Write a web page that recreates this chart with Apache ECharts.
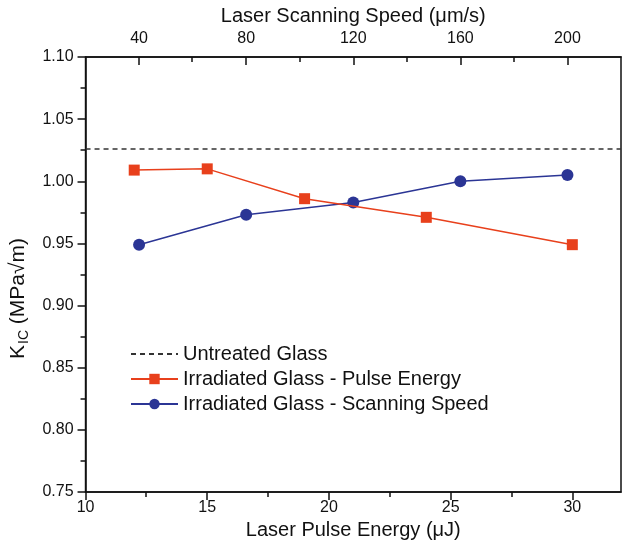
<!DOCTYPE html>
<html>
<head>
<meta charset="utf-8">
<script src="https://cdn.jsdelivr.net/npm/echarts@6/dist/echarts.min.js"></script>
<style>
  html, body { margin: 0; padding: 0; background: #fff; }
  #chart { width: 623px; height: 548px; }
</style>
</head>
<body>
<div id="chart"></div>
<script>
// Fracture toughness of glass vs. laser processing parameters
const untreatedValue = 1.026;

const pulseEnergy = [12, 15, 19, 24, 30];          // µJ (bottom axis)
const kicPulse = [1.009, 1.010, 0.986, 0.971, 0.949];

const scanSpeed = [40, 80, 120, 160, 200];         // µm/s (top axis)
const kicSpeed = [0.949, 0.973, 0.983, 1.000, 1.005];

const energyTicks = [10, 15, 20, 25, 30];
const energyMinorTicks = [12.5, 17.5, 22.5, 27.5];
const speedTicks = [40, 80, 120, 160, 200];
const speedMinorTicks = [60, 100, 140, 180];
const energyRange = [10, 32];
const speedRange = [20, 220];

const FONT = 'Liberation Sans, Arial, sans-serif';
const INK = '#111';
const RED = '#E8401C';
const BLUE = '#2B3595';
const DASH = '#333';

const gridBox = { left: 85, right: 2, top: 57, bottom: 56 };

const chart = echarts.init(document.getElementById('chart'), null, { renderer: 'canvas' });

const axisLine = { show: true, lineStyle: { color: INK, width: 1.5 } };
const labelStyle = { color: INK, fontSize: 16, fontFamily: FONT };
const titleStyle = { color: INK, fontSize: 20, fontFamily: FONT };

chart.setOption({
  backgroundColor: '#fff',
  animation: false,
  grid: [
    Object.assign({ show: true, borderColor: INK, borderWidth: 1.5, containLabel: false }, gridBox),
    Object.assign({ show: false, containLabel: false }, gridBox)
  ],
  legend: {
    orient: 'vertical',
    left: 125,
    top: 339,
    itemWidth: 47,
    itemHeight: 13,
    itemGap: 5,
    itemTextGap: 6,
    textStyle: { color: INK, fontSize: 20, fontFamily: FONT },
    data: ['Untreated Glass', 'Irradiated Glass - Pulse Energy', 'Irradiated Glass - Scanning Speed']
  },
  xAxis: [
    {
      type: 'value', gridIndex: 0, position: 'bottom',
      min: energyRange[0], max: energyRange[1],
      axisLine: axisLine,
      axisTick: { show: true, inside: false, length: 8, customValues: energyTicks, lineStyle: { color: INK, width: 1.5 } },
      axisLabel: Object.assign({ margin: 8, customValues: energyTicks }, labelStyle),
      splitLine: { show: false },
      name: 'Laser Pulse Energy (\u03bcJ)',
      nameLocation: 'middle', nameGap: 28,
      nameTextStyle: titleStyle
    },
    {
      type: 'value', gridIndex: 0, position: 'top',
      min: speedRange[0], max: speedRange[1],
      axisLine: axisLine,
      axisTick: { show: true, inside: true, length: 8, customValues: speedTicks, lineStyle: { color: INK, width: 1.5 } },
      axisLabel: Object.assign({ margin: 10, customValues: speedTicks }, labelStyle),
      splitLine: { show: false },
      name: 'Laser Scanning Speed (\u03bcm/s)',
      nameLocation: 'middle', nameGap: 28,
      nameTextStyle: titleStyle
    },
    // minor tick marks on both horizontal axes
    {
      type: 'value', gridIndex: 1, position: 'bottom',
      min: energyRange[0], max: energyRange[1],
      axisLine: { show: false },
      axisTick: { show: true, inside: false, length: 5, customValues: energyMinorTicks, lineStyle: { color: INK, width: 1.5 } },
      axisLabel: { show: false },
      splitLine: { show: false }
    },
    {
      type: 'value', gridIndex: 1, position: 'top',
      min: speedRange[0], max: speedRange[1],
      axisLine: { show: false },
      axisTick: { show: true, inside: true, length: 5, customValues: speedMinorTicks, lineStyle: { color: INK, width: 1.5 } },
      axisLabel: { show: false },
      splitLine: { show: false }
    }
  ],
  yAxis: [
    {
      type: 'value', gridIndex: 0, position: 'left',
      min: 0.75, max: 1.10, interval: 0.05,
      axisLine: axisLine,
      axisTick: { show: true, inside: false, length: 8, lineStyle: { color: INK, width: 1.5 } },
      minorTick: { show: true, splitNumber: 2, length: 5, lineStyle: { color: INK, width: 1.5 } },
      axisLabel: Object.assign({ margin: 12, formatter: v => v.toFixed(2) }, labelStyle),
      splitLine: { show: false },
      name: '{k|K}{s|IC}{k| (MPa\u221am)}',
      nameLocation: 'middle', nameGap: 49,
      nameTextStyle: {
        color: INK, fontFamily: FONT,
        padding: [0, 48, 0, 0],
        rich: {
          k: { fontSize: 21, fontFamily: FONT, color: INK, lineHeight: 26, verticalAlign: 'middle' },
          s: { fontSize: 14, fontFamily: FONT, color: INK, lineHeight: 26, verticalAlign: 'bottom', padding: [9, 0, 0, 1] }
        }
      }
    },
    {
      type: 'value', gridIndex: 1, show: false, min: 0, max: 1
    }
  ],
  series: [
    {
      name: 'Untreated Glass',
      type: 'line',
      xAxisIndex: 0, yAxisIndex: 0,
      data: energyRange.map(x => [x, untreatedValue]),
      showSymbol: false,
      symbol: 'none',
      // transparent item colour keeps the legend icon to the dashed stroke only
      itemStyle: { color: 'rgba(0,0,0,0)', borderWidth: 0 },
      lineStyle: { color: DASH, width: 1.5, type: [5, 4] },
      z: 1
    },
    {
      name: 'Irradiated Glass - Pulse Energy',
      type: 'line',
      xAxisIndex: 0, yAxisIndex: 0,
      data: pulseEnergy.map((x, i) => [x, kicPulse[i]]),
      symbol: 'rect',
      symbolSize: 11,
      itemStyle: { color: RED },
      lineStyle: { color: RED, width: 1.5 },
      z: 3
    },
    {
      name: 'Irradiated Glass - Scanning Speed',
      type: 'line',
      xAxisIndex: 1, yAxisIndex: 0,
      data: scanSpeed.map((x, i) => [x, kicSpeed[i]]),
      symbol: 'circle',
      symbolSize: 12,
      itemStyle: { color: BLUE },
      lineStyle: { color: BLUE, width: 1.5 },
      z: 2
    }
  ]
});
</script>
</body>
</html>
